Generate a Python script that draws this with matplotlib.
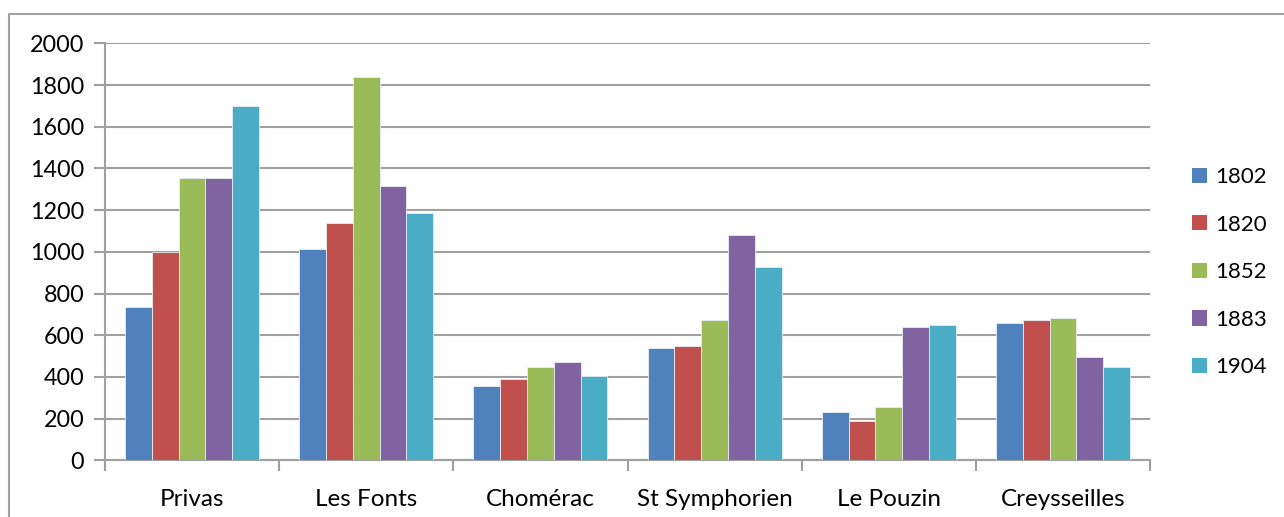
import numpy as np
import matplotlib
matplotlib.use("Agg")
from matplotlib import pyplot as plt
from matplotlib.patches import Patch
from matplotlib.lines import Line2D

communes = ["Privas", "Les Fonts", "Chomérac", "St Symphorien", "Le Pouzin", "Creysseilles"]
years = ["1802", "1820", "1852", "1883", "1904"]

pop_1802 = [735, 1015, 355, 537, 232, 657]
pop_1820 = [1000, 1140, 388, 550, 187, 675]
pop_1852 = [1352, 1837, 446, 671, 256, 681]
pop_1883 = [1356, 1317, 473, 1081, 641, 496]
pop_1904 = [1700, 1185, 406, 927, 651, 448]

series = [pop_1802, pop_1820, pop_1852, pop_1883, pop_1904]
colors = ["#4F81BD", "#C0504D", "#9BBB59", "#8064A2", "#4BACC6"]
grey = "#a0a0a0"

plt.rcParams["font.family"] = ["Lato", "DejaVu Sans"]

W, H = 1284, 517
fig = plt.figure(figsize=(W / 100, H / 100), dpi=100)
ax = fig.add_axes([105 / W, 1 - 460.3 / H, (1150 - 105) / W, (460.3 - 43.3) / H])

# excel style clustered columns: gap width 150 %
n = len(series)
width = 1 / (n + 1.5)
x = np.arange(len(communes))
for i, (vals, c) in enumerate(zip(series, colors)):
    offs = (i - (n - 1) / 2) * width
    ax.bar(x + offs, vals, width, color=c, edgecolor="#e8eef5", linewidth=0.6,
           label=years[i], zorder=3)

ax.set_xlim(-0.5, len(communes) - 0.5)
ax.set_ylim(0, 2000)
ax.set_yticks(np.arange(0, 2001, 200))
ax.set_xticks(x)
ax.set_xticklabels(communes)
ax.set_xticks(np.arange(-0.5, len(communes), 1), minor=True)
ax.tick_params(axis="x", which="major", length=0, pad=21, labelsize=17.5)
ax.tick_params(axis="x", which="minor", length=8, width=1.5, color=grey, direction="out")
ax.tick_params(axis="y", length=8, width=1.5, color=grey, pad=7, labelsize=16.8)

ax.grid(axis="y", color=grey, linewidth=1.5, zorder=0)
ax.set_axisbelow(True)
for s in ["top", "right"]:
    ax.spines[s].set_visible(False)
for s in ["left", "bottom"]:
    ax.spines[s].set_color(grey)
    ax.spines[s].set_linewidth(1.5)

handles = [Patch(facecolor=c, edgecolor="none") for c in colors]
fig.legend(handles, years, loc="upper left", bbox_to_anchor=(1192 / W, 1 - 167 / H),
           frameon=False, fontsize=16, handlelength=0.68, handleheight=0.68,
           handletextpad=0.35, labelspacing=1.24, borderpad=0, borderaxespad=0)

# chart area frame (left and top edges)
fig.add_artist(Line2D([9 / W, 9 / W, 1.0], [0.0, 1 - 14 / H, 1 - 14 / H],
                      transform=fig.transFigure, color=grey, linewidth=1.5))

fig.savefig("out.png", dpi=100)
